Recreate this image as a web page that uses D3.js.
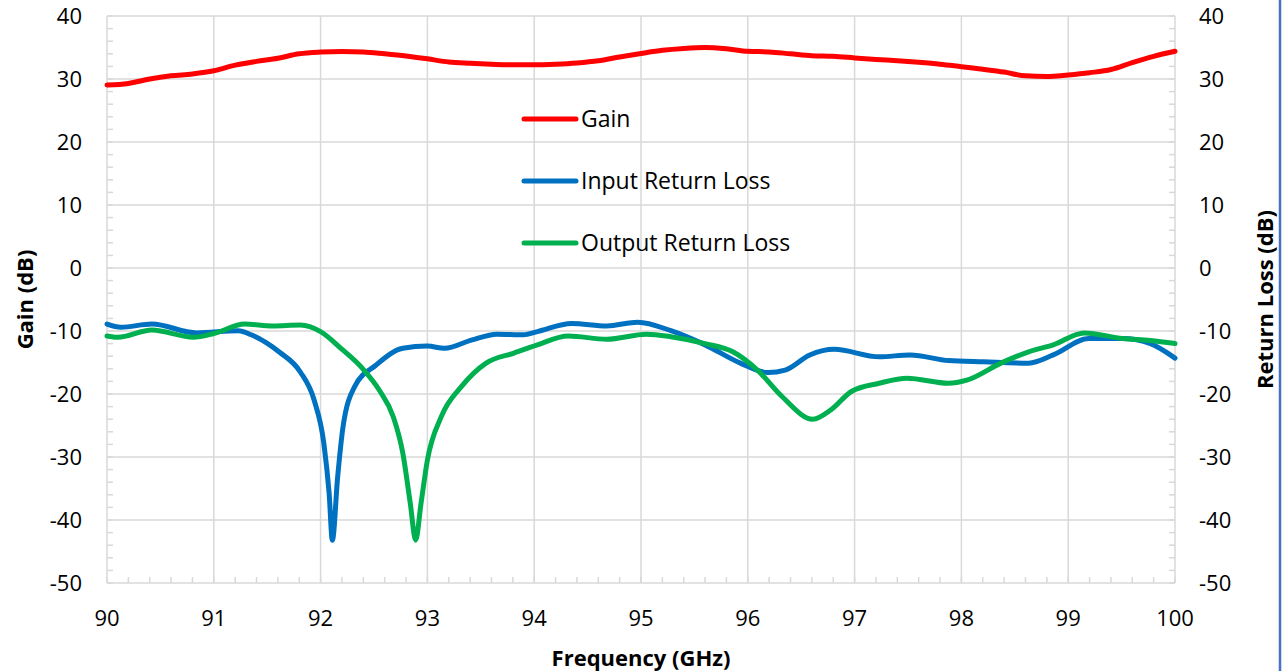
<!DOCTYPE html>
<html>
<head>
<meta charset="utf-8">
<script src="https://cdn.jsdelivr.net/npm/d3@7"></script>
<style>
  body { margin: 0; background: #fff; }
  svg text { font-family: "Open Sans", "Noto Sans", sans-serif; fill: #000; }
</style>
</head>
<body>
<svg id="chart" width="1282" height="671"></svg>
<script>
// gain trace (dB) vs frequency (GHz)
const gainFreq = [90.0, 90.2, 90.4, 90.6, 90.8, 91.0, 91.2, 91.4, 91.6, 91.8, 92.0, 92.2, 92.4, 92.6, 92.8,
  93.0, 93.2, 93.4, 93.6, 93.8, 94.0, 94.2, 94.4, 94.6, 94.8, 95.0, 95.2, 95.4, 95.6, 95.8, 96.0,
  96.2, 96.4, 96.6, 96.8, 97.0, 97.2, 97.4, 97.6, 97.8, 98.0, 98.2, 98.4, 98.6, 98.8, 99.0, 99.2,
  99.4, 99.6, 99.8, 100.0];
const gainDb = [29.05, 29.3, 30.0, 30.5, 30.8, 31.3, 32.2, 32.8, 33.3, 34.0, 34.27, 34.37, 34.3, 34.0, 33.65,
  33.2, 32.7, 32.5, 32.35, 32.25, 32.25, 32.35, 32.55, 32.9, 33.5, 34.05, 34.55, 34.85, 35.0, 34.8, 34.4,
  34.3, 34.0, 33.7, 33.6, 33.35, 33.1, 32.9, 32.65, 32.35, 31.95, 31.55, 31.1, 30.5, 30.4, 30.65, 31.0,
  31.5, 32.6, 33.6, 34.4];

// input return loss
const inputFreq = [90.0, 90.13, 90.42, 90.84, 91.23, 91.35, 91.61, 91.81, 91.94, 92.03, 92.08, 92.11, 92.16,
  92.21, 92.32, 92.52, 92.77, 93.0, 93.16, 93.42, 93.65, 93.9, 94.03, 94.35, 94.68, 94.97, 95.28, 95.6,
  95.93, 96.19, 96.35, 96.58, 96.81, 97.23, 97.52, 97.88, 98.21, 98.63, 98.86, 99.19, 99.51, 99.77, 100.0];
const inputDb = [-8.9, -9.4, -8.9, -10.3, -9.95, -10.6, -13.3, -16.5, -21.0, -27.8, -35.8, -43.2, -33.1,
  -25.2, -18.8, -15.4, -12.75, -12.4, -12.75, -11.4, -10.5, -10.6, -10.1, -8.8, -9.2, -8.6, -9.95, -12.2,
  -15.1, -16.6, -16.2, -13.8, -12.9, -14.1, -13.8, -14.7, -14.9, -15.1, -13.8, -11.2, -11.2, -12.0, -14.3];

// output return loss
const outputFreq = [90.0, 90.1, 90.42, 90.81, 91.0, 91.29, 91.55, 91.81, 92.0, 92.19, 92.39, 92.55, 92.68,
  92.77, 92.84, 92.89, 92.94, 93.0, 93.13, 93.32, 93.55, 93.81, 94.03, 94.32, 94.68, 95.05, 95.28, 95.6,
  95.86, 96.09, 96.32, 96.61, 96.78, 96.97, 97.23, 97.49, 97.88, 98.05, 98.37, 98.63, 98.86, 99.15, 99.51,
  99.77, 100.0];
const outputDb = [-10.8, -11.0, -9.85, -11.0, -10.4, -8.9, -9.2, -9.05, -10.1, -12.75, -15.9, -19.4, -23.6,
  -29.4, -37.4, -43.2, -37.4, -30.5, -23.6, -18.8, -15.1, -13.5, -12.2, -10.8, -11.3, -10.5, -10.9, -12.0,
  -13.3, -16.2, -20.4, -24.0, -22.5, -19.6, -18.3, -17.5, -18.3, -17.8, -15.1, -13.3, -12.2, -10.3, -11.2,
  -11.5, -12.0];

const seriesNames = ["Gain", "Input Return Loss", "Output Return Loss"];
const seriesColors = ["#ff0000", "#0070c0", "#00b050"];
const xTicks = [90, 91, 92, 93, 94, 95, 96, 97, 98, 99, 100];
const yTicks = [40, 30, 20, 10, 0, -10, -20, -30, -40, -50];

const svg = d3.select("#chart");
const H = 671;

const x = d3.scaleLinear().domain([90, 100]).range([107, 1175]);
const yL = d3.scaleLinear().domain([-50, 40]).range([583, 16]);
const yR = d3.scaleLinear().domain([-50, 40]).range([583, 16]);

const grid = "#d9d9d9";

// gridlines
svg.append("g").selectAll("line").data(yTicks).enter().append("line")
  .attr("x1", x(90)).attr("x2", x(100))
  .attr("y1", d => yL(d)).attr("y2", d => yL(d))
  .attr("stroke", grid).attr("stroke-width", 1.5);
svg.append("g").selectAll("line").data(xTicks).enter().append("line")
  .attr("x1", d => x(d)).attr("x2", d => x(d))
  .attr("y1", yL(40)).attr("y2", yL(-50))
  .attr("stroke", grid).attr("stroke-width", 1.5);

// minor ticks (inside the plot)
const minorY = d3.range(-50, 40.01, 2);
const minorX = d3.range(90, 100.01, 0.2);
svg.append("g").selectAll("line").data(minorY).enter().append("line")
  .attr("x1", x(90)).attr("x2", x(90) + 6)
  .attr("y1", d => yL(d)).attr("y2", d => yL(d))
  .attr("stroke", grid).attr("stroke-width", 1.5);
svg.append("g").selectAll("line").data(minorY).enter().append("line")
  .attr("x1", x(100) - 6).attr("x2", x(100))
  .attr("y1", d => yR(d)).attr("y2", d => yR(d))
  .attr("stroke", grid).attr("stroke-width", 1.5);
svg.append("g").selectAll("line").data(minorX).enter().append("line")
  .attr("x1", d => x(d)).attr("x2", d => x(d))
  .attr("y1", yL(-50) - 6).attr("y2", yL(-50))
  .attr("stroke", grid).attr("stroke-width", 1.5);

// tick labels
svg.append("g").selectAll("text").data(yTicks).enter().append("text")
  .attr("x", 82).attr("y", d => yL(d)).attr("dy", "0.36em")
  .attr("text-anchor", "end").style("font-size", "22px")
  .text(d => d);
svg.append("g").selectAll("text").data(yTicks).enter().append("text")
  .attr("x", 1199).attr("y", d => yR(d)).attr("dy", "0.36em")
  .attr("text-anchor", "start").style("font-size", "22px")
  .text(d => d);
svg.append("g").selectAll("text").data(xTicks).enter().append("text")
  .attr("x", d => x(d)).attr("y", 626)
  .attr("text-anchor", "middle").style("font-size", "22px")
  .text(d => d);

// axis titles
svg.append("text")
  .attr("transform", "translate(33," + yL(-5) + ") rotate(-90)")
  .attr("text-anchor", "middle").style("font-size", "22px").style("font-weight", "bold")
  .text("Gain (dB)");
svg.append("text")
  .attr("transform", "translate(1273," + yR(-5) + ") rotate(-90)")
  .attr("text-anchor", "middle").style("font-size", "22px").style("font-weight", "bold")
  .text("Return Loss (dB)");
svg.append("text")
  .attr("x", x(95)).attr("y", 666)
  .attr("text-anchor", "middle").style("font-size", "22px").style("font-weight", "bold")
  .text("Frequency (GHz)");

// series
const line = d3.line().x(d => x(d[0])).curve(d3.curveMonotoneX);
const series = [
  {freq: gainFreq, db: gainDb, y: yL},
  {freq: inputFreq, db: inputDb, y: yR},
  {freq: outputFreq, db: outputDb, y: yR}
];
series.forEach((s, i) => {
  const pts = s.freq.map((f, j) => [f, s.db[j]]);
  svg.append("path")
    .attr("d", line.y(d => s.y(d[1]))(pts))
    .attr("fill", "none")
    .attr("stroke", seriesColors[i])
    .attr("stroke-width", 5)
    .attr("stroke-linejoin", "round")
    .attr("stroke-linecap", "round");
});

// legend
const legend = svg.append("g");
seriesNames.forEach((name, i) => {
  const ly = 119 + i * 62;
  legend.append("line")
    .attr("x1", 524).attr("x2", 576).attr("y1", ly).attr("y2", ly)
    .attr("stroke", seriesColors[i]).attr("stroke-width", 5)
    .attr("stroke-linecap", "round");
  legend.append("text")
    .attr("x", 581).attr("y", ly).attr("dy", "0.36em")
    .style("font-size", "23px")
    .text(name);
});

// frame edge on the right
svg.append("line")
  .attr("x1", 1280).attr("x2", 1280).attr("y1", 0).attr("y2", H)
  .attr("stroke", "#4472c4").attr("stroke-width", 2.5);
</script>
</body>
</html>
